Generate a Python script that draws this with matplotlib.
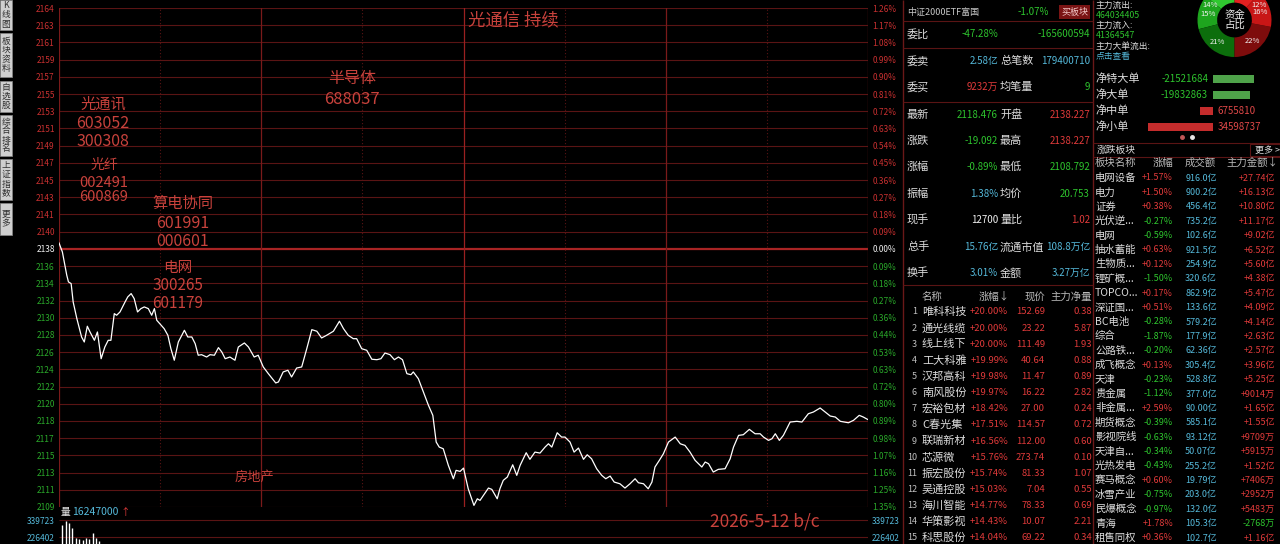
import numpy as np
import matplotlib.pyplot as plt
from matplotlib.patches import Rectangle

plt.rcParams['font.family'] = ['Noto Sans CJK SC', 'DejaVu Sans']

# ===== intraday index data (minutes after 9:30, price)
prev_close = 2137.568
grid_step = 1.9238

minutes = [0, 1.0, 2.3, 2.8, 3.6, 4.2, 5.3, 6.7, 7.5, 8.4,
           9.2, 10.5, 11.4, 12.5, 13.6, 14.6, 15.4, 16.4, 17.1, 18.1,
           19.6, 20.4, 21.4, 22.3, 23.3, 24.3, 25.3, 26.5, 27.5, 28.3,
           29.0, 30.3, 31.2, 32.3, 33.2, 34.2, 35.4, 37.2, 38.2, 39.4,
           40.4, 41.3, 42.3, 43.8, 44.8, 46.1, 47.3, 48.3, 49.3, 50.7,
           52.2, 53.2, 55.0, 56.2, 57.9, 59.1, 60.6, 62.1, 64.3, 65.1,
           66.5, 67.9, 69.0, 70.5, 72.0, 73.5, 75.0, 76.5, 77.9, 79.4,
           81.4, 83.2, 84.4, 85.8, 87.3, 88.3, 89.8, 91.3, 92.8, 94.3,
           95.5, 96.7, 98.2, 99.5, 100.7, 101.9, 103.2, 104.4, 105.1, 106.6,
           108.1, 109.6, 110.9, 111.9, 112.8, 114.0, 115.5, 117.0, 117.8, 119.0,
           120.0, 121.4, 123.1, 124.1, 124.9, 125.9, 127.4, 128.4, 130.0, 130.8,
           131.8, 133.0, 134.6, 135.8, 136.8, 138.6, 139.7, 141.2, 142.7, 144.2,
           145.2, 146.2, 147.8, 149.1, 150.1, 151.6, 152.8, 154.1, 155.6, 156.7,
           158.0, 159.5, 161.0, 162.2, 163.5, 164.7, 166.4, 167.9, 169.4, 170.9,
           171.9, 173.4, 174.8, 175.9, 176.8, 178.1, 179.3, 180.8, 182.8, 184.3,
           185.7, 187.2, 188.7, 190.7, 191.7, 192.7, 194.1, 195.6, 197.6, 199.1,
           200.1, 201.6, 203.0, 204.8, 206.5, 208.0, 209.0, 210.5, 211.5, 212.5,
           213.7, 214.9, 216.9, 218.9, 220.4, 222.3, 223.8, 225.8, 227.3, 228.8,
           230.3, 231.8, 234.2, 235.7, 237.4, 238.6, 240]

prices = [2138.23, 2137.23, 2134.63, 2133.88, 2133.69, 2131.64, 2129.77, 2127.72, 2127.16, 2128.92,
          2128.28, 2127.35, 2128.28, 2125.29, 2126.60, 2127.35, 2127.35, 2130.33, 2130.15, 2130.52,
          2131.64, 2132.20, 2132.57, 2132.01, 2130.52, 2130.89, 2131.08, 2130.89, 2130.15, 2130.89,
          2129.59, 2129.03, 2128.65, 2127.91, 2126.41, 2125.12, 2127.16, 2128.47, 2127.72, 2127.72,
          2126.97, 2125.68, 2125.74, 2125.48, 2125.74, 2125.68, 2126.53, 2126.04, 2125.29, 2125.48,
          2125.12, 2126.60, 2127.05, 2126.60, 2125.48, 2125.68, 2124.37, 2123.62, 2122.58, 2122.69,
          2123.81, 2124.00, 2123.25, 2124.25, 2124.37, 2126.41, 2128.54, 2128.36, 2127.61, 2127.91,
          2128.36, 2129.48, 2128.65, 2127.91, 2127.53, 2127.53, 2126.41, 2126.23, 2125.23, 2125.18,
          2125.29, 2125.93, 2125.74, 2125.18, 2125.48, 2125.18, 2123.62, 2123.50, 2123.81, 2123.06,
          2121.57, 2120.08, 2118.96, 2115.97, 2115.41, 2115.22, 2113.37, 2111.87, 2112.81, 2112.69,
          2113.06, 2110.75, 2108.89, 2109.63, 2109.45, 2110.01, 2110.83, 2110.68, 2109.63, 2110.75,
          2111.69, 2112.06, 2113.43, 2112.25, 2113.37, 2114.78, 2114.04, 2114.85, 2114.74, 2115.41,
          2115.78, 2115.41, 2117.01, 2116.53, 2116.53, 2115.97, 2114.85, 2115.30, 2114.04, 2114.55,
          2114.10, 2112.99, 2112.25, 2111.87, 2112.17, 2111.50, 2111.31, 2110.83, 2111.31, 2111.87,
          2111.42, 2111.31, 2110.75, 2111.50, 2113.18, 2113.93, 2114.66, 2115.97, 2116.53, 2115.78,
          2115.60, 2114.85, 2113.93, 2113.18, 2113.74, 2113.55, 2112.62, 2112.92, 2112.99, 2114.10,
          2115.41, 2116.72, 2116.79, 2117.39, 2116.90, 2116.90, 2116.53, 2116.16, 2116.34, 2116.90,
          2116.16, 2116.72, 2118.21, 2118.29, 2118.21, 2119.14, 2119.33, 2119.78, 2119.33, 2118.88,
          2118.77, 2118.29, 2118.13, 2118.40, 2118.96, 2118.77, 2118.48]

# axis labels (as printed by the software)
left_labels = ['2164', '2163', '2161', '2159', '2157', '2155', '2153', '2151', '2149', '2147',
               '2145', '2143', '2141', '2140', '2138', '2136', '2134', '2132', '2130', '2128',
               '2126', '2124', '2122', '2120', '2118', '2117', '2115', '2113', '2111', '2109']
right_labels = ['1.26%', '1.17%', '1.08%', '0.99%', '0.90%', '0.81%', '0.72%', '0.63%', '0.54%', '0.45%',
                '0.36%', '0.27%', '0.18%', '0.09%', '0.00%', '0.09%', '0.18%', '0.27%', '0.36%', '0.44%',
                '0.53%', '0.63%', '0.72%', '0.80%', '0.89%', '0.98%', '1.07%', '1.16%', '1.25%', '1.35%']

# volume (only first bars are visible)
vol_minutes = [1, 2, 3, 4, 5, 6, 7, 8, 9, 10, 11, 12]
vol_values = [306000, 335000, 322000, 286000, 220000, 213000, 206000, 220000, 213000, 255000, 220000, 202000]
vol_ticks = [339723, 226402]

# quote panel
quote_l_names = ['委比', '委卖', '委买', '最新', '涨跌', '涨幅', '振幅', '现手', '总手', '换手']
quote_l_vals = ['-47.28%', '2.58亿', '9232万', '2118.476', '-19.092', '-0.89%', '1.38%', '12700', '15.76亿', '3.01%']
quote_l_cols = ['g', 'c', 'r', 'g', 'g', 'g', 'c', 'w', 'c', 'c']
quote_r_names = ['', '总笔数', '均笔量', '开盘', '最高', '最低', '均价', '量比', '流通市值', '金额']
quote_r_vals = ['-165600594', '179400710', '9', '2138.227', '2138.227', '2108.792', '20.753', '1.02', '108.8万亿', '3.27万亿']
quote_r_cols = ['g', 'c', 'g', 'r', 'r', 'g', 'g', 'r', 'c', 'c']

# top gainers
rank_names = ['唯科科技', '通光线缆', '线上线下', '工大科雅', '汉邦高科', '南风股份', '宏裕包材', 'C春光集',
              '联瑞新材', '芯源微', '振宏股份', '吴通控股', '海川智能', '华策影视', '科思股份']
rank_pct = ['+20.00%', '+20.00%', '+20.00%', '+19.99%', '+19.98%', '+19.97%', '+18.42%', '+17.51%',
            '+16.56%', '+15.76%', '+15.74%', '+15.03%', '+14.77%', '+14.43%', '+14.04%']
rank_price = ['152.69', '23.22', '111.49', '40.64', '11.47', '16.22', '27.00', '114.57',
              '112.00', '273.74', '81.33', '7.04', '78.33', '10.07', '69.22']
rank_net = ['0.38', '5.87', '1.93', '0.88', '0.89', '2.82', '0.24', '0.72',
            '0.60', '0.10', '1.07', '0.55', '0.69', '2.21', '0.34']

# capital flow
flow_names = ['净特大单', '净大单', '净中单', '净小单']
flow_values = [-21521684, -19832863, 6755810, 34598737]
pie_shares = [14, 15, 21, 22, 16, 12]
pie_labels = ['14%', '15%', '21%', '22%', '16%', '12%']

# sectors
sec_names = ['电网设备', '电力', '证券', '光伏逆...', '电网', '抽水蓄能', '生物质...', '锂矿概...', 'TOPCO...',
             '深证国...', 'BC电池', '综合', '公路铁...', '成飞概念', '天津', '贵金属', '非金属...', '期货概念',
             '影视院线', '天津自...', '光热发电', '赛马概念', '冰雪产业', '民爆概念', '青海', '租售同权']
sec_pct = ['+1.57%', '+1.50%', '+0.38%', '-0.27%', '-0.59%', '+0.63%', '+0.12%', '-1.50%', '+0.17%',
           '+0.51%', '-0.28%', '-1.87%', '-0.20%', '+0.13%', '-0.23%', '-1.12%', '+2.59%', '-0.39%',
           '-0.63%', '-0.34%', '-0.43%', '+0.60%', '-0.75%', '-0.97%', '+1.78%', '+0.36%']
sec_amount = ['916.0亿', '900.2亿', '456.4亿', '735.2亿', '102.6亿', '921.5亿', '254.9亿', '320.6亿', '862.9亿',
              '133.6亿', '579.2亿', '177.9亿', '62.36亿', '305.4亿', '528.8亿', '377.0亿', '90.00亿', '585.1亿',
              '93.12亿', '50.07亿', '255.2亿', '19.79亿', '203.0亿', '132.0亿', '105.3亿', '102.7亿']
sec_main = ['+27.74亿', '+16.13亿', '+10.80亿', '+11.17亿', '+9.02亿', '+6.52亿', '+5.60亿', '+4.38亿', '+5.47亿',
            '+4.09亿', '+4.14亿', '+2.63亿', '+2.57亿', '+3.96亿', '+5.25亿', '+9014万', '+1.65亿', '+1.55亿',
            '+9709万', '+5915万', '+1.52亿', '+7406万', '+2952万', '+5483万', '-2768万', '+1.16亿']

# ===== colours
GRID = '#5a1414'
RED = '#e03a3a'
GREEN = '#2ec42e'
CYAN = '#55b9da'
WHITE = '#dcdcdc'
NOTE = '#c8423c'
cmap = {'r': RED, 'g': GREEN, 'c': CYAN, 'w': '#f0f0f0'}

W, H = 1280, 544
fig = plt.figure(figsize=(12.8, 5.44), dpi=100, facecolor='black')

# ===== price panel
levels = prev_close + grid_step * np.arange(14, -16, -1)
ax = fig.add_axes([59 / W, 1 - 507 / H, 809 / W, 499 / H], facecolor='black')
ax.hlines(levels, 0, 240, color=GRID, lw=0.8)
ax.axhline(prev_close, color='#a82424', lw=1.6)
for m in [0, 60, 120, 180, 240]:
    ax.axvline(m, color='#7a1a1a' if m != 120 else '#9a2020', lw=0.9)
for m in [30, 90, 150, 210]:
    ax.axvline(m, color='#5a1414', lw=0.8, ls=(0, (1, 2)))
ax.plot(minutes, prices, color='white', lw=0.9)
ax.set_xlim(0, 240)
ax.set_ylim(levels[-1], levels[0])
ax.set_xticks([])
ax.set_yticks(levels)
ax.set_yticklabels(left_labels, fontsize=6)
ax.tick_params(length=0, pad=3)
for i, t in enumerate(ax.get_yticklabels()):
    t.set_color('#c83030' if i < 14 else ('#f0f0f0' if i == 14 else '#2aa82a'))
for s in ax.spines.values():
    s.set_visible(False)

ax_r = ax.twinx()
ax_r.set_ylim(levels[-1], levels[0])
ax_r.set_yticks(levels)
ax_r.set_yticklabels(right_labels, fontsize=6)
ax_r.tick_params(length=0, pad=3)
for i, t in enumerate(ax_r.get_yticklabels()):
    t.set_color('#c83030' if i < 14 else ('#f0f0f0' if i == 14 else '#2aa82a'))
for s in ax_r.spines.values():
    s.set_visible(False)

# ===== volume panel
ax_v = fig.add_axes([59 / W, 1 - 571 / H, 809 / W, 61 / H], facecolor='black')
ax_v.hlines(vol_ticks, 0, 240, color=GRID, lw=0.8)
ax_v.vlines(vol_minutes, 0, vol_values, color='white', lw=1)
ax_v.set_xlim(0, 240)
ax_v.set_ylim(0, 406383)
ax_v.set_xticks([])
ax_v.set_yticks(vol_ticks)
ax_v.set_yticklabels([str(v) for v in vol_ticks], fontsize=6, color=CYAN)
ax_v.tick_params(length=0, pad=3, labelright=True)
for s in ax_v.spines.values():
    s.set_visible(False)

# ===== overlay in pixel space for screen texts
ov = fig.add_axes([0, 0, 1, 1], facecolor='none')
ov.set_xlim(0, W)
ov.set_ylim(H, 0)
ov.axis('off')

# left toolbar
buttons = [('K线图', 0, 30), ('板块资料', 33, 77), ('自选股', 81, 112), ('综合排名', 115, 156),
           ('上证指数', 159, 200), ('更多', 203, 235)]
for txt, y0, y1 in buttons:
    ov.add_patch(Rectangle((0, y0), 12, y1 - y0, facecolor='#cfcfcf', edgecolor='#888888', lw=0.5))
    ov.text(6, (y0 + y1) / 2, '\n'.join(txt), fontsize=6.3, color='#303030', ha='center', va='center',
            linespacing=1.0)

# notes on chart
notes = [('光通讯', 103, 104, 11), ('603052', 103, 124, 11.5), ('300308', 103, 142, 11.5),
         ('光纤', 104, 165, 10), ('002491', 104, 183, 10.5), ('600869', 104, 197, 10.5),
         ('算电协同', 183, 203, 11), ('601991', 183, 223, 11.5), ('000601', 183, 242, 11.5),
         ('电网', 178, 268, 10.5), ('300265', 178, 286, 11), ('601179', 178, 303, 11),
         ('半导体', 352, 78, 11.5), ('688037', 352, 100, 12),
         ('光通信 持续', 513, 20, 12.5), ('房地产', 254, 477, 9.5), ('2026-5-12 b/c', 765, 522, 12.5)]
for txt, x, y, fs in notes:
    ov.text(x, y, txt, fontsize=fs, color=NOTE, ha='center', va='center')

ov.text(61, 512, '量', fontsize=7, color='#e8e8e8', va='center')
ov.text(72, 512, '16247000', fontsize=7.5, color=CYAN, va='center')
ov.text(120, 512, '↑', fontsize=7, color=RED, va='center')

# panel borders
ov.vlines([903, 1093], 0, H, color='#6a1818', lw=1)
ov.hlines([21, 48, 102, 285], 903, 1093, color=GRID, lw=0.8)
ov.hlines([143, 157], 1093, W, color=GRID, lw=0.8)

# quote panel
ov.text(907, 12, '中证2000ETF富国', fontsize=6.5, color='#c8c8c8', va='center')
ov.text(1033, 12, '-1.07%', fontsize=7, color=GREEN, va='center', ha='center')
ov.add_patch(Rectangle((1059, 5), 31, 14, facecolor='#7a1414', edgecolor='none'))
ov.text(1074.5, 12, '买板块', fontsize=6.5, color='#f2c8c8', va='center', ha='center')
quote_y = [34, 61, 87, 115, 141, 167, 194, 220, 247, 273]
for i, y in enumerate(quote_y):
    ov.text(907, y, quote_l_names[i], fontsize=8, color=WHITE, va='center')
    ov.text(998, y, quote_l_vals[i], fontsize=7, color=cmap[quote_l_cols[i]], va='center', ha='right')
    ov.text(1000, y, quote_r_names[i], fontsize=8, color=WHITE, va='center')
    ov.text(1090, y, quote_r_vals[i], fontsize=7, color=cmap[quote_r_cols[i]], va='center', ha='right')

# top gainers table
ov.text(922, 297, '名称', fontsize=7.5, color='#b8b8b8', va='center')
ov.text(1010, 297, '涨幅↓', fontsize=7.5, color='#b8b8b8', va='center', ha='right')
ov.text(1045, 297, '现价', fontsize=7.5, color='#b8b8b8', va='center', ha='right')
ov.text(1092, 297, '主力净量', fontsize=7.5, color='#b8b8b8', va='center', ha='right')
for i in range(len(rank_names)):
    y = 312 + i * 16.14
    ov.text(917, y, str(i + 1), fontsize=6.5, color='#c0c0c0', va='center', ha='right')
    ov.text(922, y, rank_names[i], fontsize=8, color=WHITE, va='center')
    ov.text(1008, y, rank_pct[i], fontsize=6.8, color=RED, va='center', ha='right')
    ov.text(1045, y, rank_price[i], fontsize=6.8, color=RED, va='center', ha='right')
    ov.text(1092, y, rank_net[i], fontsize=6.8, color=RED, va='center', ha='right')

# capital flow text
flow_text = [('主力流出:', WHITE), ('464034405', GREEN), ('主力流入:', WHITE), ('41364547', GREEN),
             ('主力大单流出:', WHITE), ('点击查看', CYAN)]
for i, (txt, c) in enumerate(flow_text):
    ov.text(1096, 5 + i * 10.3, txt, fontsize=6.3, color=c, va='center')

# donut (top edge of ring is outside the screen, as in the original)
ax_d = fig.add_axes([(1234.5 - 37) / W, 1 - 57 / H, 74 / W, 74 / H])
wedges, texts = ax_d.pie(pie_shares, labels=pie_labels, startangle=90, counterclock=True,
                         labeldistance=0.74,
                         colors=['#30c830', '#1ea51e', '#0c6e0c', '#7e0c0c', '#c81616', '#e42020'],
                         wedgeprops=dict(width=0.53, edgecolor='none'),
                         textprops=dict(color='#f0f0f0', fontsize=5.5, ha='center', va='center'))
for t in texts:
    x, y = t.get_position()
    if y > 0.4:
        t.set_position((np.sign(x) * 0.66, 0.40))
ax_d.text(0, 0, '资金\n占比', color='#f0f0f0', fontsize=7.5, ha='center', va='center', linespacing=1.0)
ax_d.set_xlim(-1, 1)
ax_d.set_ylim(-1, 1)
ax_d.set_aspect('equal')
ax_d.axis('off')

# net flow bars (green to the right, red to the left)
ax_f = fig.add_axes([1140 / W, 1 - 135 / H, 140 / W, 64 / H], facecolor='none')
rows = np.arange(len(flow_values))
bar_vals = [-v for v in flow_values]
ax_f.barh(rows, bar_vals, height=0.5,
          color=['#4fa34a' if v < 0 else '#c42c2c' for v in flow_values])
for r, v in zip(rows, flow_values):
    if v < 0:
        ax_f.text(-2.6e6, r, str(v), color=GREEN, fontsize=7, ha='right', va='center')
    else:
        ax_f.text(2.6e6, r, str(v), color='#e04848', fontsize=7, ha='left', va='center')
ax_f.set_xlim(-38.8e6, 35.6e6)
ax_f.set_ylim(len(flow_values) - 0.5, -0.5)
ax_f.axis('off')
for i, name in enumerate(flow_names):
    ov.text(1095, 79 + i * 16, name, fontsize=8, color=WHITE, va='center')
ov.plot([1182], [137], 'o', color='#c05858', ms=2.5)
ov.plot([1192], [137], 'o', color='#e8e8e8', ms=2.5)

# sector table
ov.text(1097, 150, '涨跌板块', fontsize=7, color=WHITE, va='center')
ov.add_patch(Rectangle((1250, 144), 30, 12, facecolor='none', edgecolor=GRID, lw=0.8))
ov.text(1255, 150, '更多 >', fontsize=6.5, color=WHITE, va='center')
ov.text(1095, 163, '板块名称', fontsize=7.5, color='#b8b8b8', va='center')
ov.text(1173, 163, '涨幅', fontsize=7.5, color='#b8b8b8', va='center', ha='right')
ov.text(1216, 163, '成交额', fontsize=7.5, color='#b8b8b8', va='center', ha='right')
ov.text(1278, 163, '主力金额↓', fontsize=7.5, color='#b8b8b8', va='center', ha='right')
for i in range(len(sec_names)):
    y = 178 + i * 14.4
    ov.text(1095, y, sec_names[i], fontsize=7.5, color=WHITE, va='center')
    ov.text(1173, y, sec_pct[i], fontsize=6.5, color=RED if sec_pct[i][0] == '+' else GREEN,
            va='center', ha='right')
    ov.text(1217, y, sec_amount[i], fontsize=6.5, color=CYAN, va='center', ha='right')
    ov.text(1275, y, sec_main[i], fontsize=6.5, color=RED if sec_main[i][0] == '+' else GREEN,
            va='center', ha='right')

fig.savefig('out.png', dpi=100, facecolor='black')
